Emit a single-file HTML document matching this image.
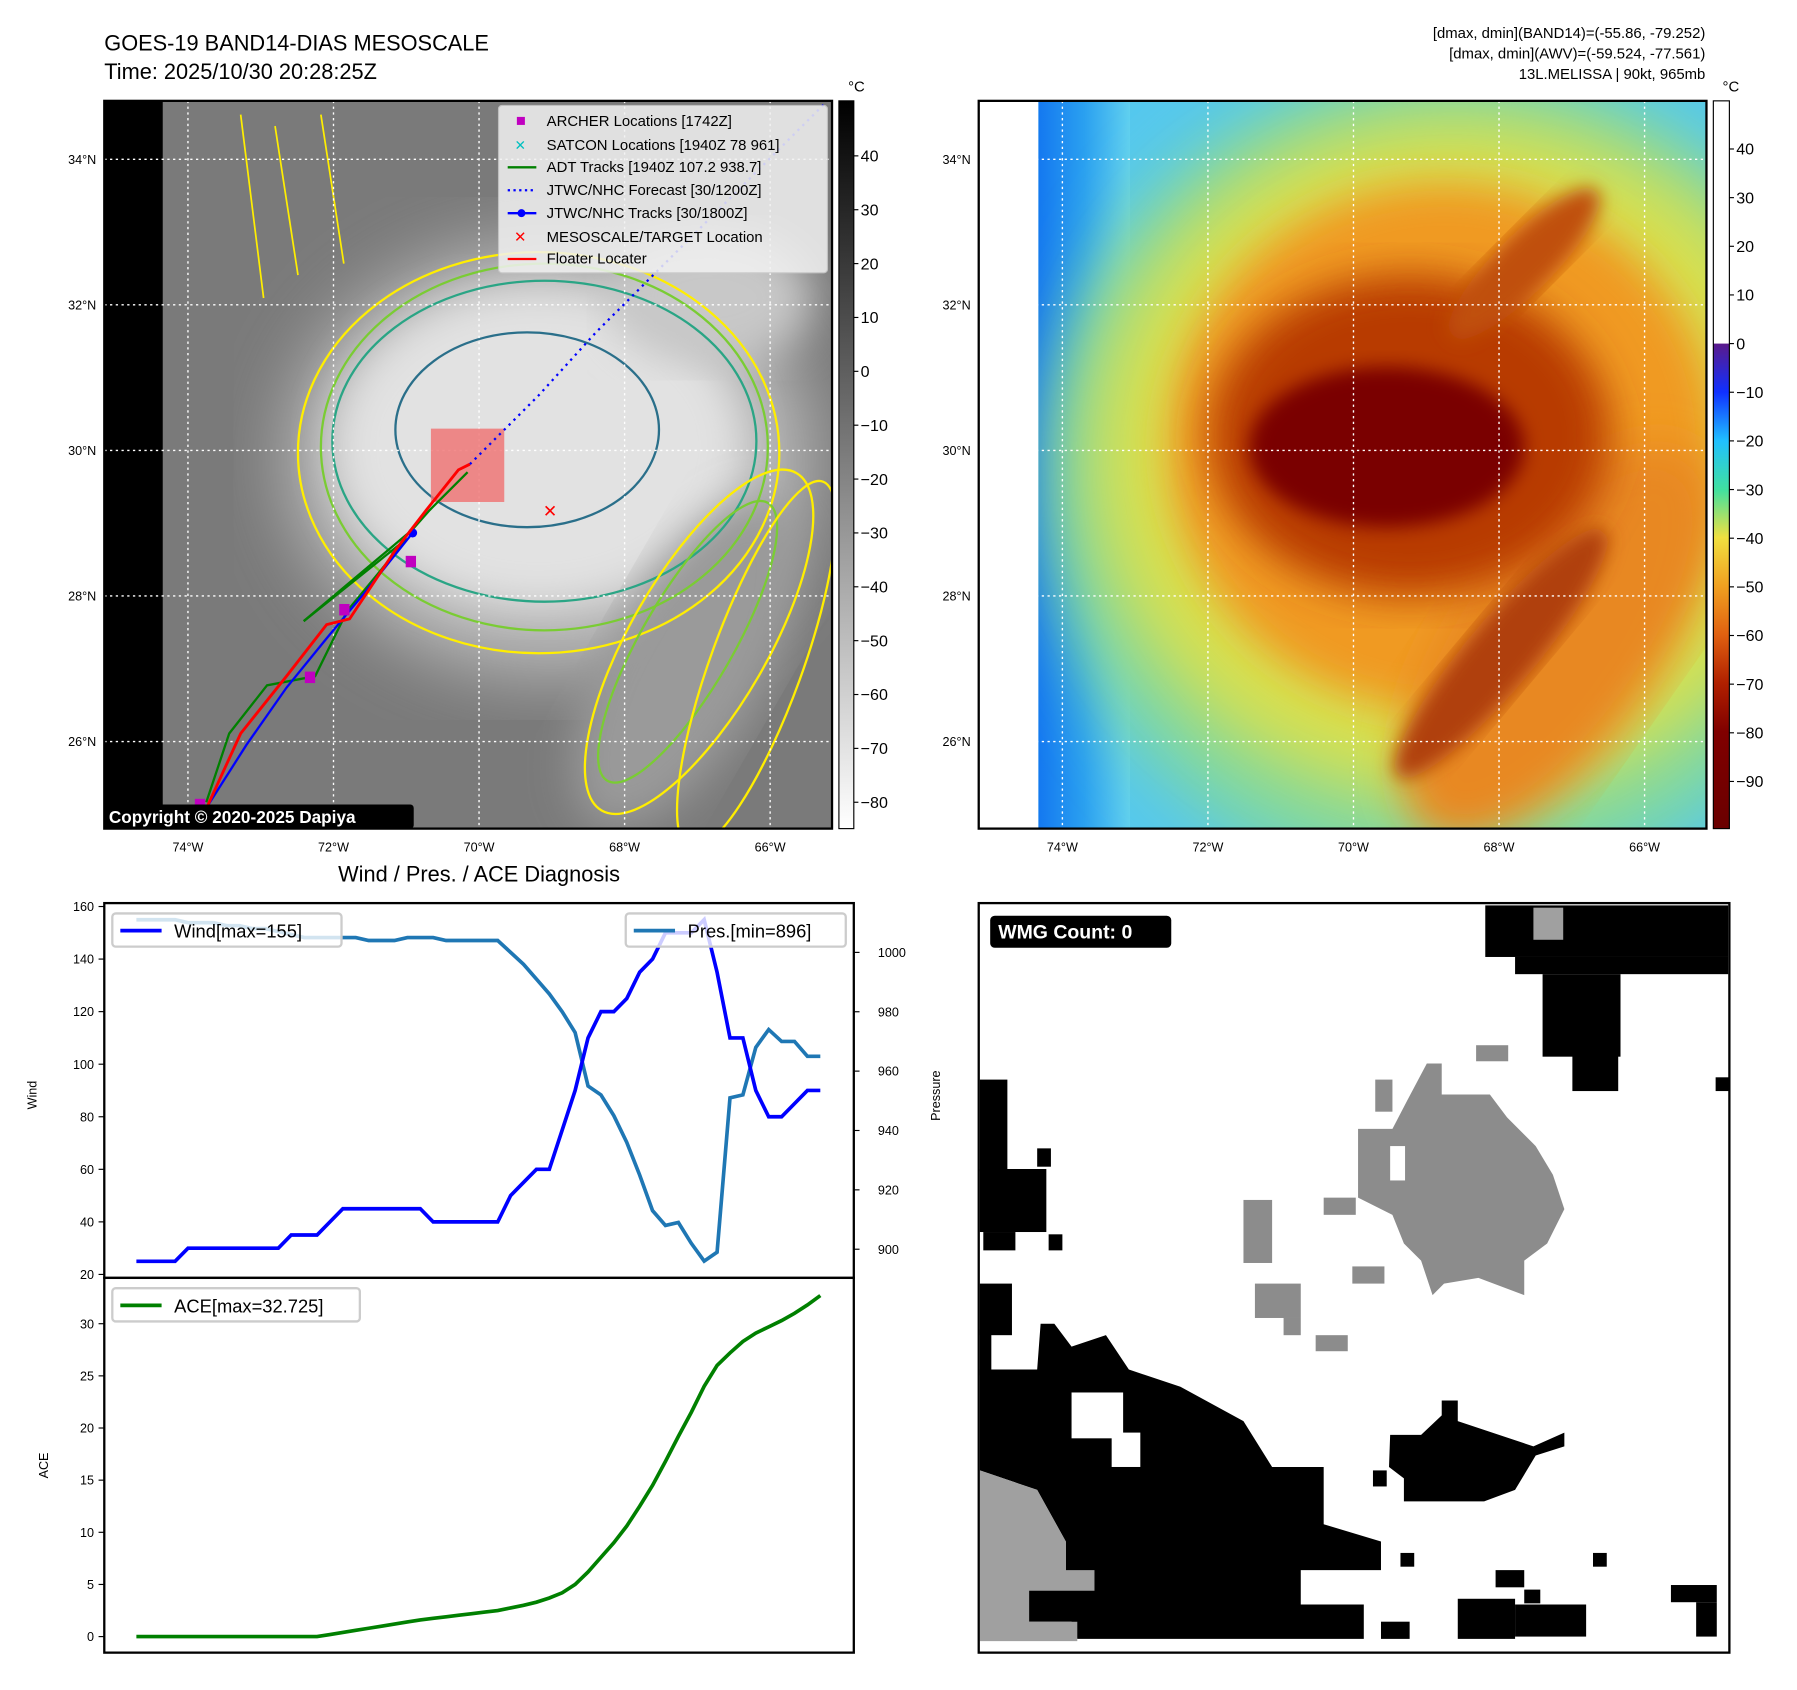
<!DOCTYPE html>
<html><head><meta charset="utf-8"><style>
html,body{margin:0;padding:0;background:#fff;}
svg{display:block;font-family:"Liberation Sans","DejaVu Sans",sans-serif;}
</style></head><body>
<svg id="fig" width="1797" height="1690" viewBox="0 0 1568 1474.6" preserveAspectRatio="none" xmlns="http://www.w3.org/2000/svg">
<defs>
<filter id="blur8"><feGaussianBlur stdDeviation="8"/></filter>
<filter id="blur18"><feGaussianBlur stdDeviation="18"/></filter>
<filter id="blur30"><feGaussianBlur stdDeviation="30"/></filter>
<linearGradient id="cb1" x1="0" y1="0" x2="0" y2="1"><stop offset="0" stop-color="#000"/><stop offset="1" stop-color="#fff"/></linearGradient>
<linearGradient id="cb2" x1="0" y1="0" x2="0" y2="1">
<stop offset="0" stop-color="#fff"/><stop offset="0.333" stop-color="#fff"/>
<stop offset="0.334" stop-color="#5a1a8c"/><stop offset="0.40" stop-color="#1030ff"/>
<stop offset="0.467" stop-color="#20c0ff"/><stop offset="0.534" stop-color="#40e0a0"/>
<stop offset="0.60" stop-color="#f0e040"/><stop offset="0.667" stop-color="#f0a020"/>
<stop offset="0.734" stop-color="#e06010"/><stop offset="0.80" stop-color="#b02000"/>
<stop offset="0.867" stop-color="#800000"/><stop offset="1" stop-color="#6a0000"/></linearGradient>
<linearGradient id="leftblue" x1="0" y1="0" x2="1" y2="0"><stop offset="0" stop-color="#1478f0"/><stop offset="0.5" stop-color="#2aa0f0"/><stop offset="1" stop-color="#60d0f0"/></linearGradient>
<clipPath id="clip1"><rect x="91" y="88" width="635" height="635"/></clipPath>
<clipPath id="clip2"><rect x="854" y="88" width="635" height="635"/></clipPath>
</defs>

<text x="91" y="44" font-size="19">GOES-19 BAND14-DIAS MESOSCALE</text>
<text x="91" y="69" font-size="19">Time: 2025/10/30 20:28:25Z</text>
<g font-size="13" text-anchor="end">
<text x="1488" y="33">[dmax, dmin](BAND14)=(-55.86, -79.252)</text>
<text x="1488" y="51">[dmax, dmin](AWV)=(-59.524, -77.561)</text>
<text x="1488" y="69">13L.MELISSA | 90kt, 965mb</text>
</g>

<!-- MAP 1 -->
<g clip-path="url(#clip1)">
<rect x="91" y="88" width="635" height="635" fill="#6e6e6e"/>
<rect x="140" y="88" width="586" height="635" fill="#7a7a7a"/>
<ellipse cx="480" cy="400" rx="230" ry="190" fill="#b8b8b8" filter="url(#blur30)"/>
<ellipse cx="470" cy="390" rx="180" ry="140" fill="#e2e2e2" filter="url(#blur18)"/>
<ellipse cx="600" cy="580" rx="70" ry="160" fill="#9a9a9a" transform="rotate(30 600 580)" filter="url(#blur18)"/>
<ellipse cx="620" cy="260" rx="90" ry="60" fill="#c8c8c8" filter="url(#blur18)"/>
<rect x="91" y="88" width="51" height="635" fill="#000"/>
<g fill="none" stroke-width="2">
<ellipse cx="470" cy="395" rx="210" ry="175" stroke="#ffee00"/>
<ellipse cx="475" cy="390" rx="195" ry="160" stroke="#7acc33"/>
<ellipse cx="475" cy="385" rx="185" ry="140" stroke="#2aa585"/>
<ellipse cx="460" cy="375" rx="115" ry="85" stroke="#2a6f8a"/>
<ellipse cx="610" cy="560" rx="60" ry="170" stroke="#ffee00" transform="rotate(30 610 560)"/>
<ellipse cx="600" cy="560" rx="40" ry="140" stroke="#7acc33" transform="rotate(30 600 560)"/>
<ellipse cx="660" cy="580" rx="40" ry="170" stroke="#ffee00" transform="rotate(20 660 580)"/>
<path d="M210 100 L230 260 M240 110 L260 240 M280 100 L300 230" stroke="#ffee00" stroke-width="1.5"/>
</g>
<g stroke="#fff" stroke-width="1.2" stroke-dasharray="2 3">
<line x1="164" y1="88" x2="164" y2="723"/><line x1="291" y1="88" x2="291" y2="723"/><line x1="418" y1="88" x2="418" y2="723"/><line x1="545" y1="88" x2="545" y2="723"/><line x1="672" y1="88" x2="672" y2="723"/>
<line x1="91" y1="139" x2="726" y2="139"/><line x1="91" y1="266" x2="726" y2="266"/><line x1="91" y1="393" x2="726" y2="393"/><line x1="91" y1="520" x2="726" y2="520"/><line x1="91" y1="647" x2="726" y2="647"/>
</g>
<rect x="376" y="374" width="64" height="64" fill="#f07070" opacity="0.8"/>
<polyline points="410,405 470,345 520,290 570,240 620,190 720,90" fill="none" stroke="#0000ff" stroke-width="2" stroke-dasharray="2 4"/>
<polyline points="265,542 360,462 375,445 408,412" fill="none" stroke="#008000" stroke-width="2"/>
<polyline points="265,542 355,470 303,533 275,590 233,598 200,640 180,700" fill="none" stroke="#008000" stroke-width="2"/>
<polyline points="180,705 215,650 250,600 285,557 320,515 360,465" fill="none" stroke="#0000ff" stroke-width="2"/>
<circle cx="360" cy="465" r="4" fill="#0000ff"/>
<polyline points="178,710 210,640 250,590 285,545 305,540 345,480 372,445 400,410 410,405" fill="none" stroke="#ff0000" stroke-width="2.5"/>
<g fill="#c000c0">
<rect x="354" y="485" width="9" height="10"/><rect x="266" y="586" width="9" height="10"/><rect x="296" y="527" width="9" height="10"/><rect x="170" y="697" width="9" height="10"/>
</g>
<text x="480" y="451" font-size="15" font-weight="bold" fill="#ff0000" text-anchor="middle">✕</text>
<rect x="91" y="702" width="270" height="21" fill="#000" rx="3"/>
<text x="95" y="718" font-size="15" font-weight="bold" fill="#fff">Copyright © 2020-2025 Dapiya</text>
</g>
<rect x="91" y="88" width="635" height="635" fill="none" stroke="#000" stroke-width="2"/>
<g>
<rect x="435" y="92" width="287" height="146" fill="#f2f2f2" opacity="0.85" stroke="#ccc" rx="3"/>
<g font-size="13">
<rect x="451" y="102" width="7" height="7" fill="#c000c0"/><text x="477" y="110">ARCHER Locations [1742Z]</text>
<text x="454" y="131" fill="#00c0c0" text-anchor="middle" font-weight="bold" font-size="12">✕</text><text x="477" y="131">SATCON Locations [1940Z 78 961]</text>
<line x1="443" y1="146" x2="468" y2="146" stroke="#008000" stroke-width="2"/><text x="477" y="150">ADT Tracks [1940Z 107.2 938.7]</text>
<line x1="443" y1="166" x2="468" y2="166" stroke="#0000ff" stroke-width="2" stroke-dasharray="2 3"/><text x="477" y="170">JTWC/NHC Forecast [30/1200Z]</text>
<line x1="443" y1="186" x2="468" y2="186" stroke="#0000ff" stroke-width="2"/><circle cx="455" cy="186" r="3.5" fill="#0000ff"/><text x="477" y="190">JTWC/NHC Tracks [30/1800Z]</text>
<text x="454" y="211" fill="#ff0000" text-anchor="middle" font-weight="bold" font-size="13">✕</text><text x="477" y="211">MESOSCALE/TARGET Location</text>
<line x1="443" y1="226" x2="468" y2="226" stroke="#ff0000" stroke-width="2"/><text x="477" y="230">Floater Locater</text>
</g></g>
<g font-size="11" text-anchor="end">
<text x="84" y="143">34°N</text><text x="84" y="270">32°N</text><text x="84" y="397">30°N</text><text x="84" y="524">28°N</text><text x="84" y="651">26°N</text>
</g>
<g font-size="11" text-anchor="middle">
<text x="164" y="743">74°W</text><text x="291" y="743">72°W</text><text x="418" y="743">70°W</text><text x="545" y="743">68°W</text><text x="672" y="743">66°W</text>
</g>
<g>
<rect x="732" y="88" width="13" height="635" fill="url(#cb1)" stroke="#000" stroke-width="1"/>
<text x="740" y="80" font-size="13">°C</text>
<g font-size="14" id="cb1labels"></g>
</g>

<!-- MAP 2 -->
<g clip-path="url(#clip2)">
<rect x="854" y="88" width="635" height="635" fill="#55c8ee"/>
<rect x="906" y="88" width="80" height="635" fill="url(#leftblue)"/>
<ellipse cx="1270" cy="420" rx="360" ry="360" fill="#80d8a0" filter="url(#blur30)"/>
<ellipse cx="1270" cy="400" rx="320" ry="300" fill="#d8e050" filter="url(#blur30)"/>
<ellipse cx="1260" cy="390" rx="240" ry="230" fill="#f09a20" filter="url(#blur18)"/>
<ellipse cx="1360" cy="560" rx="90" ry="200" fill="#e88820" transform="rotate(35 1360 560)" filter="url(#blur18)"/>
<ellipse cx="1230" cy="380" rx="175" ry="140" fill="#b83a05" filter="url(#blur18)"/>
<ellipse cx="1210" cy="390" rx="120" ry="70" fill="#7a0000" filter="url(#blur8)"/>
<ellipse cx="1310" cy="570" rx="30" ry="140" fill="#b04010" transform="rotate(40 1310 570)" filter="url(#blur8)"/>
<ellipse cx="1330" cy="230" rx="25" ry="90" fill="#c05010" transform="rotate(45 1330 230)" filter="url(#blur8)"/>
<rect x="854" y="88" width="52" height="635" fill="#fff"/>
<g stroke="#fff" stroke-width="1.2" stroke-dasharray="2 3">
<line x1="927" y1="88" x2="927" y2="723"/><line x1="1054" y1="88" x2="1054" y2="723"/><line x1="1181" y1="88" x2="1181" y2="723"/><line x1="1308" y1="88" x2="1308" y2="723"/><line x1="1435" y1="88" x2="1435" y2="723"/>
<line x1="854" y1="139" x2="1489" y2="139"/><line x1="854" y1="266" x2="1489" y2="266"/><line x1="854" y1="393" x2="1489" y2="393"/><line x1="854" y1="520" x2="1489" y2="520"/><line x1="854" y1="647" x2="1489" y2="647"/>
</g></g>
<rect x="854" y="88" width="635" height="635" fill="none" stroke="#000" stroke-width="2"/>
<g font-size="11" text-anchor="end">
<text x="847" y="143">34°N</text><text x="847" y="270">32°N</text><text x="847" y="397">30°N</text><text x="847" y="524">28°N</text><text x="847" y="651">26°N</text>
</g>
<g font-size="11" text-anchor="middle">
<text x="927" y="743">74°W</text><text x="1054" y="743">72°W</text><text x="1181" y="743">70°W</text><text x="1308" y="743">68°W</text><text x="1435" y="743">66°W</text>
</g>
<g>
<rect x="1495" y="88" width="14" height="635" fill="url(#cb2)" stroke="#000" stroke-width="1"/>
<text x="1503" y="80" font-size="13">°C</text>
<g font-size="14" id="cb2labels"></g>
</g>

<text x="418" y="769" font-size="19" text-anchor="middle">Wind / Pres. / ACE Diagnosis</text>
<g id="diag"></g>

<g>
<rect x="854" y="788" width="655" height="654" fill="#fff"/>
<g fill="#000">
<rect x="1296" y="790" width="212" height="45"/><rect x="1322" y="835" width="186" height="15"/><rect x="1346" y="850" width="68" height="72"/><rect x="1372" y="920" width="40" height="32"/>
<rect x="855" y="942" width="24" height="80"/><rect x="855" y="1020" width="58" height="55"/><rect x="858" y="1075" width="28" height="16"/><rect x="905" y="1002" width="12" height="16"/><rect x="915" y="1077" width="12" height="14"/><rect x="1497" y="940" width="12" height="12"/>
<rect x="855" y="1120" width="28" height="45"/><rect x="855" y="1160" width="10" height="40"/>
<polygon points="855,1195 905,1195 908,1155 920,1155 935,1175 965,1165 985,1195 1030,1210 1085,1240 1110,1280 1155,1280 1155,1330 1205,1345 1205,1370 1135,1370 1135,1400 1190,1400 1190,1430 940,1430 935,1415 895,1415 895,1385 930,1385 930,1345 905,1300 855,1283"/>
<polygon points="1213,1252 1240,1252 1258,1235 1258,1222 1272,1222 1272,1240 1308,1252 1338,1262 1365,1250 1365,1262 1340,1270 1322,1300 1295,1310 1225,1310 1225,1290 1212,1280"/>
<rect x="1272" y="1395" width="50" height="35"/><rect x="1322" y="1400" width="62" height="28"/><rect x="1305" y="1370" width="25" height="15"/><rect x="1205" y="1415" width="25" height="15"/><rect x="1458" y="1383" width="40" height="15"/><rect x="1480" y="1398" width="18" height="30"/><rect x="1390" y="1355" width="12" height="12"/><rect x="1222" y="1355" width="12" height="12"/><rect x="1198" y="1283" width="12" height="14"/><rect x="1330" y="1387" width="14" height="12"/>
</g>
<g fill="#ffffff"><rect x="935" y="1215" width="45" height="40"/><rect x="970" y="1250" width="25" height="30"/></g>
<g fill="#8c8c8c">
<polygon points="1228,960 1245,928 1258,928 1258,955 1300,955 1315,975 1340,1000 1355,1025 1365,1055 1350,1085 1330,1100 1330,1130 1290,1115 1260,1120 1250,1130 1240,1100 1225,1085 1215,1060 1185,1045 1185,985 1215,985"/>
<rect x="1085" y="1047" width="25" height="55"/><rect x="1155" y="1045" width="28" height="15"/><rect x="1095" y="1120" width="40" height="30"/><rect x="1120" y="1150" width="15" height="15"/><rect x="1148" y="1165" width="28" height="14"/><rect x="1180" y="1105" width="28" height="15"/><rect x="1288" y="912" width="28" height="14"/><rect x="1200" y="942" width="15" height="28"/>
</g>
<rect x="1213" y="1000" width="13" height="30" fill="#fff"/>
<rect x="1338" y="792" width="26" height="28" fill="#a0a0a0"/>
<polygon points="855,1283 905,1300 930,1345 930,1370 955,1370 955,1388 898,1388 898,1415 940,1415 940,1432 855,1432" fill="#a0a0a0"/>
<rect x="854" y="788" width="655" height="654" fill="none" stroke="#000" stroke-width="2"/>
<rect x="864" y="799" width="158" height="28" rx="4" fill="#000"/>
<text x="871" y="819" font-size="17" font-weight="bold" fill="#fff">WMG Count: 0</text>
</g>

<script>
const windValues = [25,25,25,25,30,30,30,30,30,30,30,30,35,35,35,40,45,45,45,45,45,45,45,40,40,40,40,40,40,50,55,60,60,75,90,110,120,120,125,135,140,150,150,150,155,135,110,110,90,80,80,85,90,90];
const pressureValues = [1011,1011,1011,1011,1010,1010,1010,1009,1009,1008,1008,1007,1006,1005,1005,1005,1005,1005,1004,1004,1004,1005,1005,1005,1004,1004,1004,1004,1004,1000,996,991,986,980,973,955,952,945,936,925,913,908,909,902,896,899,951,952,968,974,970,970,965,965];
const aceValues = [0,0,0,0,0,0,0,0,0,0,0,0,0,0,0,0.2,0.4,0.6,0.8,1.0,1.2,1.4,1.6,1.75,1.9,2.05,2.2,2.35,2.5,2.75,3.0,3.3,3.7,4.2,5.0,6.2,7.6,9.0,10.6,12.5,14.5,16.8,19.2,21.5,24,26,27.2,28.3,29.1,29.7,30.3,31,31.8,32.7];
const windTicks = [20,40,60,80,100,120,140,160];
const presTicks = [900,920,940,960,980,1000];
const aceTicks = [0,5,10,15,20,25,30];
const cb1Ticks = [40,30,20,10,0,-10,-20,-30,-40,-50,-60,-70,-80];
const cb2Ticks = [40,30,20,10,0,-10,-20,-30,-40,-50,-60,-70,-80,-90];

const NS='http://www.w3.org/2000/svg';
const xOf = i => 119 + i*11.26;
const yWind = v => 1112 - (v-20)*2.293;
const yPres = p => 831 + (1000-p)*2.59;
const yAce = a => 1428 - a*9.1;
const yCb1 = v => 136 + (40-v)*4.7;
const yCb2 = v => 130 + (40-v)*4.245;
function mk(tag, attrs, parent, txt){const e=document.createElementNS(NS,tag);for(const k in attrs)e.setAttribute(k,attrs[k]);if(txt!==undefined)e.textContent=txt;parent.appendChild(e);return e;}

const c1=document.getElementById('cb1labels');
cb1Ticks.forEach(v=>{const y=yCb1(v);mk('line',{x1:745,x2:749,y1:y,y2:y,stroke:'#000'},c1);const t=mk('text',{x:751,y:y+5},c1,v===0?'0':(v<0?'\u2212'+(-v):''+v));});
const c2=document.getElementById('cb2labels');
cb2Ticks.forEach(v=>{const y=yCb2(v);mk('line',{x1:1509,x2:1513,y1:y,y2:y,stroke:'#000'},c2);const t=mk('text',{x:1515,y:y+5},c2,v===0?'0':(v<0?'\u2212'+(-v):''+v));});

const g=document.getElementById('diag');
const p1=mk('rect',{x:91,y:788,width:654,height:327,fill:'#fff',stroke:'#000','stroke-width':2},g);


const p2=mk('rect',{x:91,y:1115,width:654,height:327,fill:'#fff',stroke:'#000','stroke-width':2},g);


windTicks.forEach(v=>{const y=yWind(v);mk('line',{x1:86,x2:91,y1:y,y2:y,stroke:'#000'},g);const t=mk('text',{x:82,y:y+4,'font-size':11,'text-anchor':'end'},g,''+v);});
presTicks.forEach(v=>{const y=yPres(v);mk('line',{x1:745,x2:750,y1:y,y2:y,stroke:'#000'},g);const t=mk('text',{x:766,y:y+4,'font-size':11},g,''+v);});
aceTicks.forEach(v=>{const y=yAce(v);mk('line',{x1:86,x2:91,y1:y,y2:y,stroke:'#000'},g);const t=mk('text',{x:82,y:y+4,'font-size':11,'text-anchor':'end'},g,''+v);});
let t=mk('text',{x:0,y:0,'font-size':11,transform:'translate(32,968) rotate(-90)'},g,'Wind');


t=mk('text',{x:0,y:0,'font-size':11,transform:'translate(820,978) rotate(-90)'},g,'Pressure');


t=mk('text',{x:0,y:0,'font-size':11,transform:'translate(42,1290) rotate(-90)'},g,'ACE');



const presLine=mk('polyline',{points:pressureValues.map((v,i)=>xOf(i)+','+yPres(v)).join(' '),fill:'none',stroke:'#1f77b4','stroke-width':3.2},g);


const windLine=mk('polyline',{points:windValues.map((v,i)=>xOf(i)+','+yWind(v)).join(' '),fill:'none',stroke:'#0000ff','stroke-width':3.2},g);


const aceLine=mk('polyline',{points:aceValues.map((v,i)=>xOf(i)+','+yAce(v)).join(' '),fill:'none',stroke:'#008000','stroke-width':3.2},g);



function legend(x,y,w,color,label,name){const lg=mk('g',{},g);mk('rect',{x:x,y:y,width:w,height:29,fill:'#fff','fill-opacity':0.8,stroke:'#ccc','stroke-width':2,rx:3},lg);mk('line',{x1:x+7,x2:x+43,y1:y+15,y2:y+15,stroke:color,'stroke-width':3.2},lg);mk('text',{x:x+54,y:y+21,'font-size':16},lg,label);}
legend(98,797,200,'#0000ff','Wind[max=155]','wind-legend');
legend(546,797,192,'#1f77b4','Pres.[min=896]','pressure-legend');
legend(98,1124,216,'#008000','ACE[max=32.725]','ace-legend');
</script>
</svg>
</body></html>
